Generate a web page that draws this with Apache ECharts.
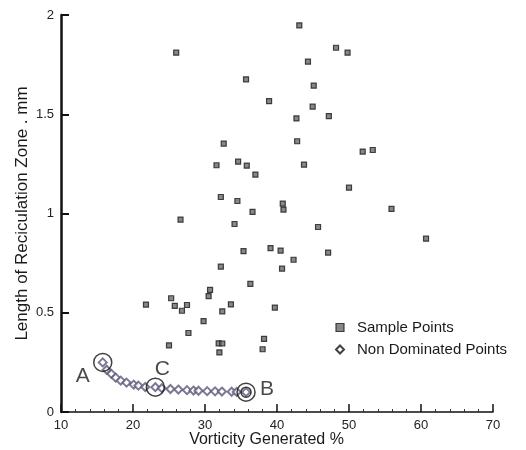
<!DOCTYPE html>
<html>
<head>
<meta charset="utf-8">
<script src="https://cdn.jsdelivr.net/npm/echarts@6/dist/echarts.min.js"></script>
<style>
  html, body { margin: 0; padding: 0; background: #ffffff; }
  #chart { width: 526px; height: 450px; }
</style>
</head>
<body>
<div id="chart"></div>
<script>
// Axis ticks
const xTicks = [10, 20, 30, 40, 50, 60, 70];
const yTicks = [0, 0.5, 1, 1.5, 2];

// Sample points: [vorticity generated %, recirculation length mm]
const samplePoints = [
  [26.0, 1.81], [35.7, 1.676], [38.9, 1.566], [32.6, 1.352], [31.6, 1.243],
  [34.6, 1.261], [35.8, 1.241], [37.0, 1.196], [32.2, 1.083], [34.5, 1.063],
  [36.6, 1.008], [26.6, 0.969], [34.1, 0.947], [43.1, 1.948], [48.2, 1.835],
  [49.8, 1.81], [44.3, 1.765], [45.1, 1.644], [44.95, 1.538], [42.7, 1.479],
  [47.2, 1.491], [42.8, 1.364], [51.9, 1.312], [53.3, 1.32], [43.75, 1.246],
  [50.0, 1.13], [40.8, 1.05], [40.9, 1.02], [55.9, 1.023], [45.7, 0.932],
  [60.7, 0.873], [39.1, 0.826], [40.5, 0.813], [47.1, 0.803], [42.3, 0.767],
  [40.7, 0.722], [39.7, 0.526], [38.2, 0.368], [38.0, 0.316], [35.35, 0.81],
  [32.2, 0.732], [36.3, 0.645], [30.7, 0.615], [30.5, 0.584], [21.8, 0.541],
  [25.3, 0.573], [25.8, 0.535], [26.8, 0.51], [27.5, 0.539], [32.4, 0.507],
  [33.6, 0.542], [29.8, 0.458], [27.7, 0.398], [25.0, 0.336], [31.9, 0.346],
  [32.0, 0.30], [32.4, 0.345]
];

// Non dominated (Pareto front) points
const frontPoints = [
  [15.8, 0.25], [16.35, 0.213], [17.0, 0.192], [17.6, 0.173], [18.3, 0.158],
  [19.1, 0.148], [20.1, 0.138], [20.75, 0.133], [21.7, 0.126], [23.1, 0.125],
  [24.0, 0.12], [25.2, 0.116], [26.3, 0.113], [27.5, 0.11], [28.4, 0.108],
  [29.1, 0.107], [30.3, 0.105], [31.4, 0.104], [32.35, 0.103], [33.7, 0.102],
  [34.4, 0.101], [35.7, 0.1]
];

// Designs picked out on the front
const markedNames = ['A', 'C', 'B'];
const markedIndex = [0, 9, frontPoints.length - 1];

const FONT = '"Liberation Sans", Arial, Helvetica, sans-serif';
const labelOffsets = { A: [-20, 14], C: [7, -18], B: [21, -3] };

const marked = markedNames.map((n, i) => ({
  name: n,
  value: frontPoints[markedIndex[i]],
  label: {
    show: true, position: 'inside', formatter: n, offset: labelOffsets[n],
    fontSize: 21, color: '#1a1a1a', fontFamily: FONT
  }
}));
const innerRing = [{ name: 'B', value: frontPoints[frontPoints.length - 1] }];

const chart = echarts.init(document.getElementById('chart'), null, { renderer: 'canvas' });
chart.setOption({
  backgroundColor: '#ffffff',
  animation: false,
  textStyle: { fontFamily: FONT },
  grid: { left: 61, right: 33, top: 15, bottom: 38, outerBoundsMode: 'none' },
  legend: {
    orient: 'vertical',
    left: 335, top: 320, padding: 0,
    itemWidth: 8, itemHeight: 8, itemGap: 7,
    selectedMode: false,
    textStyle: { fontSize: 15, color: '#1a1a1a', fontFamily: FONT, lineHeight: 15, padding: [0, 0, 0, 8] },
    data: [
      { name: 'Sample Points', icon: 'rect',
        itemStyle: { color: '#6a6a6a', borderColor: '#1a1a1a', borderWidth: 1.2 } },
      { name: 'Non Dominated Points', icon: 'diamond',
        itemStyle: { color: '#ffffff', borderColor: '#111111', borderWidth: 2 } }
    ]
  },
  xAxis: {
    type: 'value',
    min: xTicks[0], max: xTicks[xTicks.length - 1], interval: 10,
    name: 'Vorticity Generated %',
    nameLocation: 'middle', nameGap: 20, nameMoveOverlap: false,
    nameTextStyle: { fontSize: 16, color: '#1a1a1a', fontFamily: FONT, padding: [0, 21, 0, 0] },
    axisLine: { show: true, onZero: false, lineStyle: { color: '#111', width: 1.5 } },
    axisTick: { show: true, inside: true, length: 8, lineStyle: { color: '#111', width: 1.5 } },
    minorTick: { show: true, splitNumber: 5, length: 3, lineStyle: { color: '#333', width: 1 } },
    axisLabel: { fontSize: 13, color: '#222', margin: 7, fontFamily: FONT },
    splitLine: { show: false }
  },
  yAxis: {
    type: 'value',
    min: yTicks[0], max: yTicks[yTicks.length - 1], interval: 0.5,
    name: 'Length of Reciculation Zone . mm',
    nameLocation: 'middle', nameGap: 30, nameMoveOverlap: false,
    nameTextStyle: { fontSize: 17, color: '#1a1a1a', fontFamily: FONT },
    axisLine: { show: true, onZero: false, lineStyle: { color: '#111', width: 2.5 } },
    axisTick: { show: true, inside: true, length: 8, lineStyle: { color: '#111', width: 2 } },
    axisLabel: { fontSize: 13, color: '#222', margin: 7, fontFamily: FONT },
    splitLine: { show: false }
  },
  series: [
    {
      name: 'Sample Points', type: 'scatter', data: samplePoints,
      symbol: 'rect', symbolSize: 5,
      itemStyle: { color: '#6a6a6a', borderColor: '#1a1a1a', borderWidth: 1.2 },
      z: 2
    },
    {
      name: 'Non Dominated Points', type: 'scatter', data: frontPoints,
      symbol: 'diamond', symbolSize: 8,
      itemStyle: { color: '#ffffff', borderColor: '#5e5878', borderWidth: 2 },
      z: 3
    },
    {
      name: 'marked', type: 'scatter', data: marked,
      symbol: 'circle', symbolSize: 18,
      itemStyle: { color: 'rgba(0,0,0,0)', borderColor: '#111', borderWidth: 1.5 },
      z: 4, silent: true
    },
    {
      name: 'markedInner', type: 'scatter', data: innerRing,
      symbol: 'circle', symbolSize: 10,
      itemStyle: { color: 'rgba(0,0,0,0)', borderColor: '#111', borderWidth: 1.5 },
      z: 4, silent: true
    }
  ]
});
</script>
</body>
</html>
